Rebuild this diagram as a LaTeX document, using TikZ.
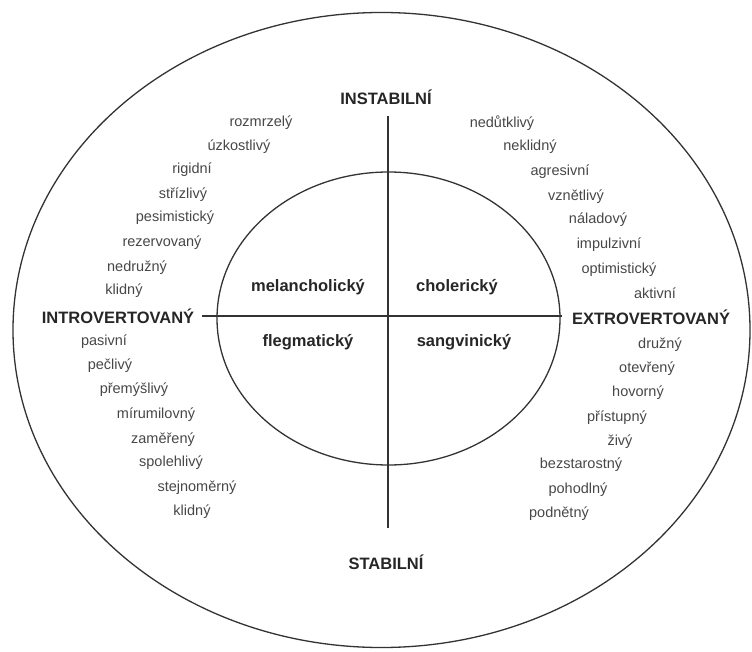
\documentclass[tikz,border=0pt]{standalone}
\usepackage{fontspec}
\setmainfont{Liberation Sans}
\begin{document}
\begin{tikzpicture}[x=1pt,y=-1pt,
  ring/.style={draw=black!80,line width=1.3pt},
  axis/.style={draw=black!80,line width=1.1pt},
  trait/.style={inner sep=0pt,text=black!72,font=\fontsize{14.5}{16}\selectfont},
  temper/.style={inner sep=0pt,text=black!85,font=\fontsize{16.5}{18}\selectfont\bfseries},
  dimen/.style={inner sep=0pt,text=black!85,font=\fontsize{16.5}{18}\selectfont\bfseries}]
\useasboundingbox (0,0) rectangle (752,652);
% ellipses
\draw[ring] (381.5,330) ellipse [x radius=368.5, y radius=317.5];
\draw[ring] (388.5,318.5) ellipse [x radius=171.5, y radius=146.5];
% axes
\coordinate (hl) at (202,316);
\coordinate (hr) at (562,316);
\coordinate (vt) at (388,116);
\coordinate (vb) at (388,528);
\draw[axis] (hl) -- (hr);
\draw[axis] (vt) -- (vb);
% dimension labels
\node[dimen] (instab) at (386,97) {INSTABILNÍ};
\node[dimen] (stab) at (386,562) {STABILNÍ};
\node[dimen] (intro) at (118,316) {INTROVERTOVANÝ};
\node[dimen] (extro) at (651,317) {EXTROVERTOVANÝ};
% temperaments
\node[temper] (mel) at (308,287) {melancholický};
\node[temper] (chol) at (457,287) {cholerický};
\node[temper] (fleg) at (308,342) {flegmatický};
\node[temper] (sang) at (464,342) {sangvinický};
% upper left
\node[trait] (ul1) at (261,123) {rozmrzelý};
\node[trait] (ul2) at (239,147) {úzkostlivý};
\node[trait] (ul3) at (192,170) {rigidní};
\node[trait] (ul4) at (183,195) {střízlivý};
\node[trait] (ul5) at (175,218) {pesimistický};
\node[trait] (ul6) at (162,243) {rezervovaný};
\node[trait] (ul7) at (137,268) {nedružný};
\node[trait] (ul8) at (124,291) {klidný};
% upper right
\node[trait] (ur1) at (502,123) {nedůtklivý};
\node[trait] (ur2) at (530,147) {neklidný};
\node[trait] (ur3) at (560,172) {agresivní};
\node[trait] (ur4) at (576,197) {vznětlivý};
\node[trait] (ur5) at (598,220) {náladový};
\node[trait] (ur6) at (609,245) {impulzivní};
\node[trait] (ur7) at (619,270) {optimistický};
\node[trait] (ur8) at (655,293) {aktivní};
% lower left
\node[trait] (ll1) at (104,342) {pasivní};
\node[trait] (ll2) at (110,366) {pečlivý};
\node[trait] (ll3) at (134,390) {přemýšlivý};
\node[trait] (ll4) at (156,415) {mírumilovný};
\node[trait] (ll5) at (163,440) {zaměřený};
\node[trait] (ll6) at (171,463) {spolehlivý};
\node[trait] (ll7) at (197,488) {stejnoměrný};
\node[trait] (ll8) at (192,512) {klidný};
% lower right
\node[trait] (lr1) at (660,345) {družný};
\node[trait] (lr2) at (647,369) {otevřený};
\node[trait] (lr3) at (638,393) {hovorný};
\node[trait] (lr4) at (617,418) {přístupný};
\node[trait] (lr5) at (620,442) {živý};
\node[trait] (lr6) at (581,465) {bezstarostný};
\node[trait] (lr7) at (578,490) {pohodlný};
\node[trait] (lr8) at (559,514) {podnětný};
\end{tikzpicture}
\end{document}
